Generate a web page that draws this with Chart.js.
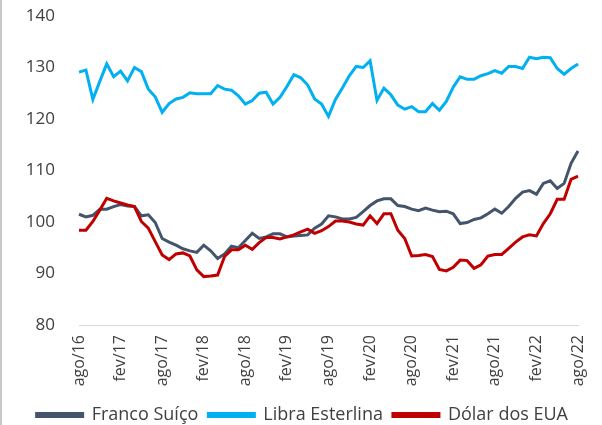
<!DOCTYPE html>
<html>
<head>
<meta charset="utf-8">
<script src="https://cdn.jsdelivr.net/npm/chart.js@4"></script>
<style>
    html, body { margin: 0; padding: 0; background: #fff; }
    #wrap { width: 600px; height: 425px; border-left: 2px solid #c8c8c8; }
</style>
</head>
<body>
<div id="wrap"><canvas id="cambioChart" width="600" height="425"></canvas></div>
<script>
// meses de ago/16 a ago/22
const meses = ["ago/16","set/16","out/16","nov/16","dez/16",
    "jan/17","fev/17","mar/17","abr/17","mai/17","jun/17","jul/17","ago/17","set/17","out/17","nov/17","dez/17",
    "jan/18","fev/18","mar/18","abr/18","mai/18","jun/18","jul/18","ago/18","set/18","out/18","nov/18","dez/18",
    "jan/19","fev/19","mar/19","abr/19","mai/19","jun/19","jul/19","ago/19","set/19","out/19","nov/19","dez/19",
    "jan/20","fev/20","mar/20","abr/20","mai/20","jun/20","jul/20","ago/20","set/20","out/20","nov/20","dez/20",
    "jan/21","fev/21","mar/21","abr/21","mai/21","jun/21","jul/21","ago/21","set/21","out/21","nov/21","dez/21",
    "jan/22","fev/22","mar/22","abr/22","mai/22","jun/22","jul/22","ago/22"];

const francoSuico = [101.5,101.0,101.3,102.5,102.5,103.0,103.4,103.1,103.0,101.2,101.4,99.9,96.8,96.1,95.5,94.8,
    94.4,94.1,95.5,94.4,92.9,93.8,95.3,95.0,96.4,97.8,96.8,97.1,97.7,97.7,97.1,97.3,97.4,97.5,98.8,99.6,
    101.2,101.0,100.6,100.6,100.9,102.0,103.2,104.1,104.5,104.5,103.2,103.0,102.5,102.2,102.7,102.3,102.0,102.1,
    101.6,99.7,99.9,100.5,100.8,101.6,102.5,101.7,103.0,104.6,105.8,106.1,105.4,107.5,108.0,106.5,107.5,111.4,113.8];

const libraEsterlina = [129.1,129.5,123.8,127.3,130.7,128.2,129.3,127.4,130.0,129.2,125.8,124.3,121.3,123.0,123.9,124.2,
    125.1,124.9,124.9,124.9,126.5,125.8,125.6,124.5,122.9,123.6,125.0,125.2,122.9,124.2,126.3,128.6,128.0,126.6,123.9,122.9,
    120.5,123.8,126.0,128.4,130.2,130.0,131.3,123.6,126.0,124.7,122.7,121.9,122.4,121.4,121.4,123.0,121.7,123.4,
    126.2,128.2,127.7,127.7,128.4,128.8,129.4,128.9,130.2,130.2,129.8,132.0,131.7,132.0,131.9,129.8,128.7,129.8,130.7];

const dolarEUA = [98.4,98.4,100.1,102.3,104.6,104.1,103.7,103.3,103.0,100.1,98.8,96.2,93.6,92.7,93.8,94.0,
    93.4,90.7,89.4,89.5,89.7,93.3,94.6,94.6,95.5,94.7,96.0,97.0,97.0,96.7,97.1,97.5,98.1,98.6,97.8,98.3,
    99.1,100.2,100.2,100.0,99.6,99.4,101.2,99.7,101.6,101.6,98.4,96.8,93.4,93.5,93.7,93.3,90.8,90.5,
    91.2,92.6,92.5,91.0,91.7,93.4,93.7,93.7,94.9,96.1,97.1,97.5,97.3,99.7,101.6,104.4,104.4,108.3,108.9];

const eixoY = { min: 80, max: 140, passo: 10 };
const passoRotulo = 6; // um rótulo a cada 6 meses

const ctx = document.getElementById("cambioChart").getContext("2d");

function serie(label, data, cor, ordem) {
    return {
        label: label,
        data: data,
        borderColor: cor,
        backgroundColor: cor,
        borderWidth: 3,
        pointRadius: 0,
        tension: 0,
        fill: false,
        order: ordem
    };
}

new Chart(ctx, {
    type: "line",
    data: {
        labels: meses,
        datasets: [
            serie("Franco Suíço", francoSuico, "#44546A", 2),
            serie("Libra Esterlina", libraEsterlina, "#00B0F0", 1),
            serie("Dólar dos EUA", dolarEUA, "#C00000", 0)
        ]
    },
    options: {
        responsive: false,
        animation: false,
        layout: { padding: { top: 16, right: 24, bottom: -9, left: 0 } },
        plugins: {
            tooltip: { enabled: false },
            legend: {
                position: "bottom",
                align: "end",
                labels: {
                    boxWidth: 46,
                    boxHeight: 3,
                    padding: 10,
                    color: "#404040",
                    font: { family: "'Open Sans'", size: 18 },
                    sort: (a, b) => a.datasetIndex - b.datasetIndex
                }
            }
        },
        scales: {
            x: {
                afterFit: (scale) => {
                    scale.height = 71;
                    scale.paddingLeft = 0;
                    scale.paddingRight = 0;
                },
                grid: { display: false, drawTicks: false },
                border: { display: true, color: "#d9d9d9", width: 1 },
                ticks: {
                    autoSkip: false,
                    maxRotation: 90,
                    minRotation: 90,
                    padding: 10,
                    color: "#404040",
                    font: { family: "'Open Sans'", size: 16 },
                    callback: function (value, index) {
                        return index % passoRotulo === 0 ? meses[index] : "";
                    }
                }
            },
            y: {
                min: eixoY.min,
                max: eixoY.max,
                afterFit: (scale) => {
                    scale.width = 77;
                    scale.paddingTop = 10;
                    scale.paddingBottom = 10;
                },
                grid: { display: false, drawTicks: false },
                border: { display: false },
                ticks: {
                    stepSize: eixoY.passo,
                    padding: 24,
                    color: "#404040",
                    font: { family: "'Open Sans'", size: 17 }
                }
            }
        }
    }
});
</script>
</body>
</html>
